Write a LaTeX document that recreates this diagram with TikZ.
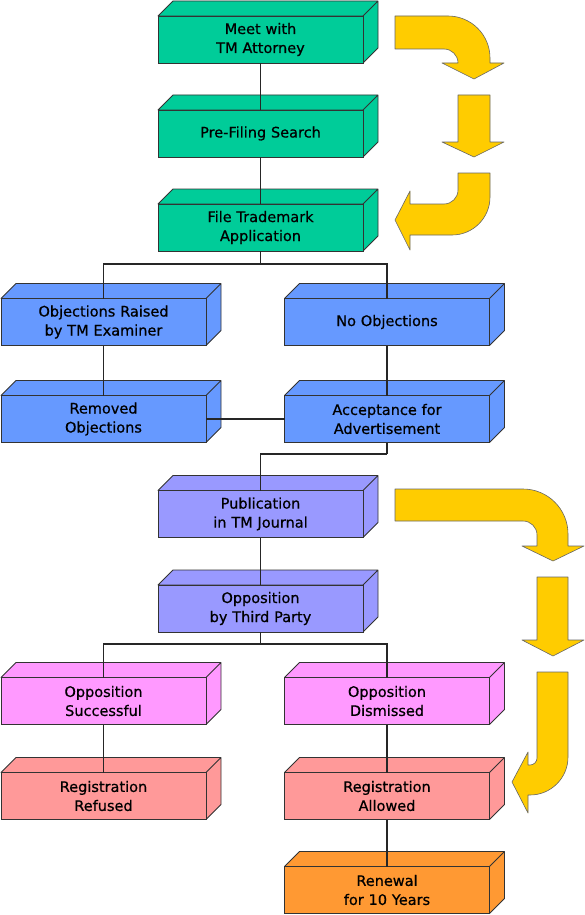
\documentclass[tikz,border=0pt]{standalone}
\usepackage{fontspec}
\setmainfont{DejaVu Sans}
\newfontfamily\stagefont{DejaVu Sans}[FakeBold=0.6]
\usetikzlibrary{shapes,arrows,positioning,calc}
\definecolor{stagegreen}{HTML}{00CC99}
\definecolor{stageblue}{HTML}{6699FF}
\definecolor{stagelilac}{HTML}{9999FF}
\definecolor{stagepink}{HTML}{FF99FF}
\definecolor{stagerose}{HTML}{FF9999}
\definecolor{stageorange}{HTML}{FF9933}
\definecolor{arrowgold}{HTML}{FFCC00}
\definecolor{edgegray}{HTML}{333333}
\tikzset{
    face/.style={draw=edgegray, line width=0.8pt, line join=round},
    stage/.style={rectangle, draw=edgegray, fill=#1, line width=0.8pt, outer sep=0pt, minimum width=205, minimum height=47, text width=195, align=center, font=\stagefont\fontsize{14.5}{19}\selectfont,
        append after command={\pgfextra{\draw[face, fill=#1] (\tikzlastnode.north west) -- ++(15,15) -- ([shift={(15,15)}]\tikzlastnode.north east) -- ([shift={(15,15)}]\tikzlastnode.south east) -- (\tikzlastnode.south east) -- (\tikzlastnode.north east) -- cycle (\tikzlastnode.north east) -- ++(15,15);}}},
    wire/.style={draw, color=black!85, line width=1.1pt},
    flowarrow/.style={fill=arrowgold, draw=black!60, line width=0.6pt, line join=round}
}

\begin{document}
\begin{tikzpicture}[x=1pt, y=1pt]
    \useasboundingbox (0,0) rectangle (585,-915);

    \node [stage=stagegreen] at (260.5,-39.5) (meet) {Meet with\\TM Attorney};
    \node [stage=stagegreen, below of=meet, node distance=94] (search) {Pre-Filing Search};
    \node [stage=stagegreen, below of=search, node distance=94] (file) {File Trademark\\Application};
    \node [stage=stageblue, below of=file, node distance=94.5, xshift=-157] (objections) {Objections Raised\\by TM Examiner};
    \node [stage=stageblue, right of=objections, node distance=283.5] (noobj) {No Objections};
    \node [stage=stageblue, below of=objections, node distance=97] (removed) {Removed\\Objections};
    \node [stage=stageblue, below of=noobj, node distance=97] (accept) {Acceptance for\\Advertisement};
    \node [stage=stagelilac, below of=file, node distance=286.5] (pub) {Publication\\in TM Journal};
    \node [stage=stagelilac, below of=pub, node distance=94.5] (opp) {Opposition\\by Third Party};
    \node [stage=stagepink, below of=opp, node distance=92.5, xshift=-157] (succ) {Opposition\\Successful};
    \node [stage=stagepink, right of=succ, node distance=283.5] (dism) {Opposition\\Dismissed};
    \node [stage=stagerose, below of=succ, node distance=95] (refused) {Registration\\Refused};
    \node [stage=stagerose, below of=dism, node distance=95] (allowed) {Registration\\Allowed};
    \node [stage=stageorange, below of=allowed, node distance=94] (renewal) {Renewal\\for 10 Years};

    \coordinate [below of=file, node distance=36.5] (forkA);
    \coordinate [below of=accept, node distance=35] (forkB);
    \coordinate [below of=opp, node distance=35.5] (forkC);

    \path [wire] (meet) -- (search);
    \path [wire] (search) -- (file);
    \path [wire] (file) -- (forkA);
    \path [wire] (forkA) -| (objections.north);
    \path [wire] (forkA) -| (noobj.north);
    \path [wire] (objections) -- (removed);
    \path [wire] (noobj) -- (accept);
    \path [wire] (removed.east) -- (accept.west);
    \path [wire] (accept) -- (forkB);
    \path [wire] (forkB) -| (pub.north);
    \path [wire] (pub) -- (opp);
    \path [wire] (opp) -- (forkC);
    \path [wire] (forkC) -| (succ.north);
    \path [wire] (forkC) -| (dism.north);
    \path [wire] (succ) -- (refused);
    \path [wire] (dism) -- (allowed);
    \path [wire] (allowed) -- (renewal);

    % yellow arrows, upper group
    \draw [flowarrow] (395,-16) -- (448,-16) arc [start angle=90, end angle=0, radius=42] -- (490,-63) -- (504,-63) -- (474,-79) -- (442,-63) -- (458,-63) arc [start angle=0, end angle=90, radius=14] -- (395,-49) -- cycle;
    \draw [flowarrow] (458,-95) -- (490,-95) -- (490,-142) -- (504,-142) -- (474,-157) -- (442,-142) -- (458,-142) -- cycle;
    \draw [flowarrow] (490,-173) -- (490,-197) arc [start angle=0, end angle=-90, radius=38] -- (410,-235) -- (410,-250) -- (395,-220) -- (410,-191) -- (410,-204) -- (444,-204) arc [start angle=-90, end angle=0, radius=14] -- (458,-173) -- cycle;

    % yellow arrows, lower group
    \draw [flowarrow] (395,-489) -- (523,-489) arc [start angle=90, end angle=0, radius=45] -- (568,-546) -- (584,-546) -- (553,-561) -- (522,-546) -- (537,-546) -- (537,-535) arc [start angle=0, end angle=90, radius=14] -- (395,-521) -- cycle;
    \draw [flowarrow] (537,-577) -- (568,-577) -- (568,-640) -- (584,-640) -- (553,-656) -- (522,-640) -- (537,-640) -- cycle;
    \draw [flowarrow] (568,-672) -- (568,-757) arc [start angle=0, end angle=-90, radius=38] -- (528,-795) -- (528,-813) -- (512,-782) -- (528,-752) -- (528,-765) -- (530,-765) arc [start angle=-90, end angle=0, radius=7] -- (537,-672) -- cycle;
\end{tikzpicture}
\end{document}
